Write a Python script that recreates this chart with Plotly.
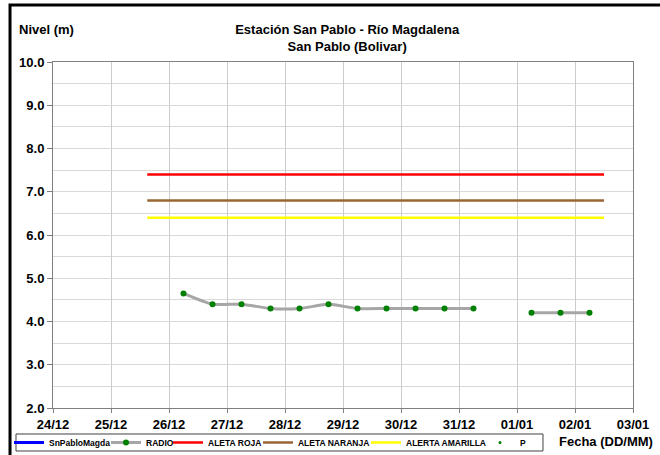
import plotly.graph_objects as go

# ---- data ----
radio_times = [
    "2023-12-26 06:00", "2023-12-26 18:00", "2023-12-27 06:00", "2023-12-27 18:00",
    "2023-12-28 06:00", "2023-12-28 18:00", "2023-12-29 06:00", "2023-12-29 18:00",
    "2023-12-30 06:00", "2023-12-30 18:00", "2023-12-31 06:00", "2023-12-31 18:00",
    "2024-01-01 06:00", "2024-01-01 18:00", "2024-01-02 06:00",
]
radio_values = [4.65, 4.4, 4.4, 4.3, 4.3, 4.4, 4.3, 4.3, 4.3, 4.3, 4.3, None, 4.2, 4.2, 4.2]

alert_times = ["2023-12-25 15:00", "2024-01-02 12:00"]
alerta_roja = [7.4, 7.4]
alerta_naranja = [6.8, 6.8]
alerta_amarilla = [6.4, 6.4]

x_range = ["2023-12-24", "2024-01-03"]
y_range = [2.0, 10.0]

series_names = ["SnPabloMagda", "RADIO", "ALETA ROJA", "ALETA NARANJA", "ALERTA AMARILLA", "P"]
title_lines = ["Estación San Pablo - Río Magdalena", "San Pablo (Bolivar)"]
y_title = "Nivel (m)"
x_title = "Fecha (DD/MM)"

FONT = "Liberation Sans, Arial, sans-serif"


def b(s):
    return "<b>" + s + "</b>"


legend_ids = ["legend", "legend2", "legend3", "legend4", "legend5", "legend6"]
legend_x = [-0.0759, 0.0914, 0.1983, 0.3534, 0.5397, 0.7362]

fig = go.Figure()

fig.add_trace(go.Scatter(x=[None], y=[None], name=b(series_names[0]), mode="lines",
                         line=dict(color="#0000FF", width=3), legend=legend_ids[0]))
fig.add_trace(go.Scatter(x=radio_times, y=radio_values, name=b(series_names[1]), mode="lines+markers",
                         line=dict(color="#A6A6A6", width=3, shape="spline", smoothing=0.6),
                         marker=dict(color="#008000", size=6), connectgaps=False,
                         legend=legend_ids[1]))
fig.add_trace(go.Scatter(x=alert_times, y=alerta_roja, name=b(series_names[2]), mode="lines",
                         line=dict(color="#FF0000", width=2.5), legend=legend_ids[2]))
fig.add_trace(go.Scatter(x=alert_times, y=alerta_naranja, name=b(series_names[3]), mode="lines",
                         line=dict(color="#996633", width=2.5), legend=legend_ids[3]))
fig.add_trace(go.Scatter(x=alert_times, y=alerta_amarilla, name=b(series_names[4]), mode="lines",
                         line=dict(color="#FFFF00", width=2.5), legend=legend_ids[4]))
fig.add_trace(go.Scatter(x=[None], y=[None], name=b(series_names[5]), mode="markers",
                         marker=dict(color="#008000", size=3), legend=legend_ids[5]))

legend_common = dict(orientation="h", xanchor="left", y=-0.0997, yanchor="middle",
                     borderwidth=0, bgcolor="rgba(0,0,0,0)",
                     font=dict(size=8.5, family=FONT), itemwidth=30)
legends = {lid: dict(x=lx, **legend_common) for lid, lx in zip(legend_ids, legend_x)}

fig.update_layout(
    width=660, height=455,
    margin=dict(l=53, r=27, t=62, b=47, autoexpand=False),
    paper_bgcolor="white", plot_bgcolor="white",
    font=dict(family=FONT, color="black"),
    title=dict(text=b(title_lines[0]) + "<br>" + b(title_lines[1]),
               x=0.526, xanchor="center", y=0.925, yanchor="middle",
               font=dict(size=13, family=FONT)),
    showlegend=True,
    **legends,
    xaxis=dict(
        type="date", range=x_range, dtick=86400000, tick0="2023-12-24",
        tickformat="<b>%d/%m</b>", tickfont=dict(size=13, family=FONT),
        showgrid=True, gridcolor="#CCCCCC", gridwidth=1,
        ticks="outside", ticklen=4, tickcolor="#808080",
        showline=True, linecolor="#808080", linewidth=1, mirror=True,
        zeroline=False, automargin=False,
    ),
    yaxis=dict(
        range=y_range, dtick=1, tick0=0, tickformat=".1f",
        tickfont=dict(size=13, family=FONT),
        tickprefix="<b>", ticksuffix="</b>",
        showgrid=True, gridcolor="#D9D9D9", gridwidth=1,
        minor=dict(dtick=0.5, showgrid=True, gridcolor="#D9D9D9", gridwidth=1),
        ticks="outside", ticklen=5, tickcolor="#808080",
        showline=True, linecolor="#808080", linewidth=1, mirror=True,
        zeroline=False, automargin=False,
    ),
    annotations=[
        dict(text=b(y_title), xref="paper", yref="paper",
             x=-0.062, y=1.0925, xanchor="left", yanchor="middle",
             showarrow=False, font=dict(size=13, family=FONT)),
        dict(text=b(x_title), xref="paper", yref="paper",
             x=1.038, y=-0.097, xanchor="right", yanchor="middle",
             showarrow=False, font=dict(size=13, family=FONT)),
    ],
    shapes=[
        # outer chart frame (left and top edges)
        dict(type="path", xref="paper", yref="paper",
             path="M -0.0741 -0.3 L -0.0741 1.1647 L 1.2 1.1647",
             line=dict(color="black", width=3)),
        # legend box
        dict(type="rect", xref="paper", yref="paper",
             x0=-0.0638, x1=0.8448, y0=-0.1243, y1=-0.0751,
             line=dict(color="#404040", width=1), fillcolor="rgba(0,0,0,0)", layer="below"),
    ],
)

fig.write_html("out.html", config={"displayModeBar": False},
               post_script="document.body.style.margin='0';document.body.style.overflow='hidden';")
